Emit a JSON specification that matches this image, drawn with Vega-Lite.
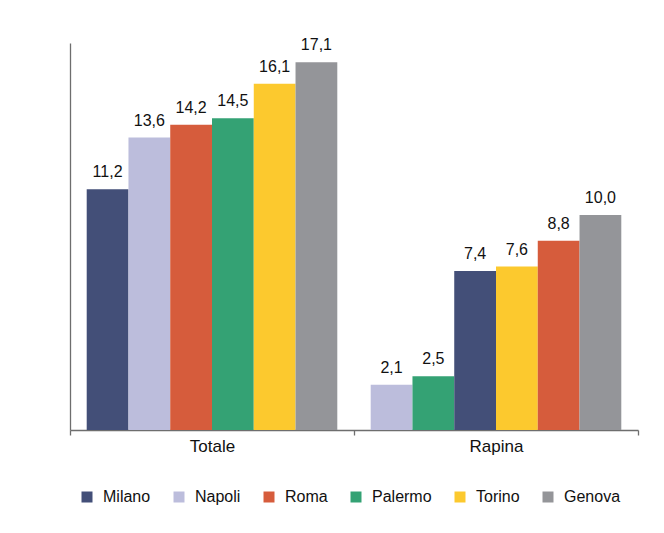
{
  "$schema": "https://vega.github.io/schema/vega-lite/v6.json",
  "autosize": {"type": "none"},
  "width": 568,
  "height": 387,
  "padding": {"left": 70, "top": 43, "right": 26, "bottom": 103},
  "background": "white",
  "config": {
    "font": "Liberation Sans",
    "view": {"stroke": null},
    "axis": {"domainColor": "#6e6e6e", "domainWidth": 1.3, "tickColor": "#6e6e6e", "tickWidth": 1.3, "grid": false}
  },
  "data": {
    "values": [
      {"group": "Totale", "city": "Milano", "value": 11.2},
      {"group": "Totale", "city": "Napoli", "value": 13.6},
      {"group": "Totale", "city": "Roma", "value": 14.2},
      {"group": "Totale", "city": "Palermo", "value": 14.5},
      {"group": "Totale", "city": "Torino", "value": 16.1},
      {"group": "Totale", "city": "Genova", "value": 17.1},
      {"group": "Rapina", "city": "Napoli", "value": 2.1},
      {"group": "Rapina", "city": "Palermo", "value": 2.5},
      {"group": "Rapina", "city": "Milano", "value": 7.4},
      {"group": "Rapina", "city": "Torino", "value": 7.6},
      {"group": "Rapina", "city": "Roma", "value": 8.8},
      {"group": "Rapina", "city": "Genova", "value": 10.0}
    ]
  },
  "transform": [
    {"window": [{"op": "row_number", "as": "rank"}], "sort": [{"field": "value", "order": "ascending"}], "groupby": ["group"]},
    {"calculate": "replace(format(datum.value, '.1f'), '.', ',')", "as": "label"}
  ],
  "encoding": {
    "x": {
      "field": "group", "type": "nominal", "sort": ["Totale", "Rapina"],
      "scale": {"paddingInner": 0, "paddingOuter": 0},
      "axis": {"title": null, "labelAngle": 0, "tickBand": "extent", "tickSize": 5, "labelFontSize": 17, "labelColor": "#111111", "labelPadding": 3, "labelFont": "Liberation Sans"}
    },
    "xOffset": {"field": "rank", "type": "ordinal", "scale": {"paddingInner": 0, "paddingOuter": 0.4}},
    "y": {
      "field": "value", "type": "quantitative",
      "scale": {"domain": [0, 18], "nice": false},
      "axis": {"title": null, "labels": false, "ticks": false}
    }
  },
  "layer": [
    {
      "mark": {"type": "bar"},
      "encoding": {
        "color": {
          "field": "city", "type": "nominal",
          "scale": {
            "domain": ["Milano", "Napoli", "Roma", "Palermo", "Torino", "Genova"],
            "range": ["#434f78", "#bcbddc", "#d65c3c", "#34a274", "#fcc92e", "#949599"]
          },
          "legend": {
            "title": null, "orient": "none", "direction": "horizontal", "columns": 6,
            "legendX": 9, "legendY": 446,
            "symbolType": "square", "symbolSize": 121, "symbolStrokeWidth": 0,
            "labelFontSize": 16, "labelColor": "#111111", "labelOffset": 8, "columnPadding": 20,
            "labelFont": "Liberation Sans"
          }
        }
      }
    },
    {
      "mark": {"type": "text", "baseline": "bottom", "dy": -9, "fontSize": 16, "color": "#111111", "font": "Liberation Sans"},
      "encoding": {"text": {"field": "label"}}
    }
  ]
}
